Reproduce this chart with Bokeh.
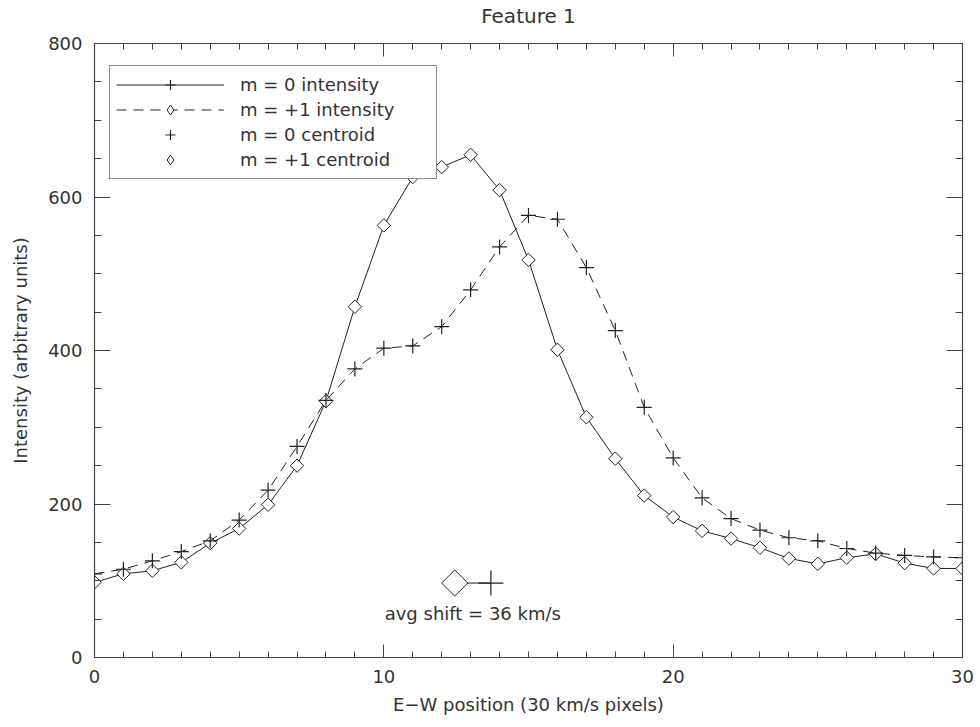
import numpy as np
from bokeh.plotting import figure
from bokeh.models import (LinearAxis, SingleIntervalTicker, Range1d, Legend,
                          LegendItem, Label)
from bokeh.embed import file_html
from bokeh.resources import INLINE

# E-W pixel positions along the slit
position = list(range(31))

# Intensity profiles (arbitrary units)
m0_intensity = [98, 109, 113, 124, 149, 168, 199, 250, 334, 457, 563, 626, 639,
                655, 609, 518, 401, 313, 259, 211, 183, 165, 155, 143, 129, 122,
                130, 135, 123, 116, 116]
m1_intensity = [109, 115, 126, 138, 152, 179, 218, 275, 335, 376, 403, 406, 431,
                479, 535, 576, 571, 508, 426, 326, 260, 208, 181, 166, 156, 152,
                142, 136, 133, 131, 130]

# Centroids (pixels) and the level they are marked at
centroid_m0 = 13.7
centroid_m1 = 12.45
centroid_level = 97
avg_shift_kms = 36

FONT = "DejaVu Sans"
INK = "#222222"
AXIS = "#444444"
TEXT = "#333333"

p = figure(width=980, height=727, output_backend="svg", toolbar_location=None,
           x_range=Range1d(0, 30), y_range=Range1d(0, 800),
           min_border_left=94, min_border_right=18, min_border_top=43,
           min_border_bottom=70,
           x_axis_label="E\u2212W position (30 km/s pixels)",
           y_axis_label="Intensity (arbitrary units)")
p.grid.visible = False
p.outline_line_color = None
p.background_fill_color = "white"
p.border_fill_color = "white"

xt = SingleIntervalTicker(interval=10, num_minor_ticks=10)
yt = SingleIntervalTicker(interval=200, num_minor_ticks=4)


def style_axis(ax, major, minor, show_labels=True):
    ax.axis_line_color = AXIS
    ax.axis_line_width = 1.2
    ax.major_tick_line_color = AXIS
    ax.minor_tick_line_color = AXIS
    ax.major_tick_in = major
    ax.major_tick_out = 0
    ax.minor_tick_in = minor
    ax.minor_tick_out = 0
    ax.major_label_text_font = FONT
    ax.major_label_text_font_size = "18px" if show_labels else "0px"
    ax.major_label_text_color = TEXT if show_labels else None
    ax.axis_label_text_font = FONT
    ax.axis_label_text_font_size = "18px"
    ax.axis_label_text_font_style = "normal"
    ax.axis_label_text_color = TEXT
    if not show_labels:
        ax.major_label_standoff = 0


xa = p.xaxis[0]
ya = p.yaxis[0]
xa.ticker = xt
ya.ticker = yt
style_axis(xa, 13, 6)
style_axis(ya, 16, 7)
xa.major_label_standoff = 12
xa.axis_label_standoff = 8
ya.major_label_standoff = 12
ya.axis_label_standoff = 14

# Mirrored axes on the top and right edges, ticks only; the top one carries
# the plot title as its axis label
top = LinearAxis(ticker=xt)
right = LinearAxis(ticker=yt)
style_axis(top, 13, 6, show_labels=False)
style_axis(right, 16, 7, show_labels=False)
top.axis_label = "Feature 1"
top.axis_label_text_font_size = "20px"
top.axis_label_standoff = 16
p.add_layout(top, "above")
p.add_layout(right, "right")

# Solid profile with diamond symbols
solid = p.line(position, m0_intensity, line_color=INK, line_width=1)
p.scatter(position, m0_intensity, marker="square", angle=np.pi / 4,
          size=9.5, fill_color="white", line_color=INK, line_width=1)

# Dashed profile with plus symbols
dashed = p.line(position, m1_intensity, line_color=INK, line_width=1,
                line_dash="10 7")
p.scatter(position, m1_intensity, marker="cross", size=15,
          line_color=INK, line_width=1.2)

# Centroid markers joined by a short line
p.line([centroid_m1, centroid_m0], [centroid_level, centroid_level],
       line_color=INK, line_width=1)
p.scatter([centroid_m1], [centroid_level], marker="square", angle=np.pi / 4,
          size=18.5, fill_color="white", line_color=INK, line_width=1)
p.scatter([centroid_m0], [centroid_level], marker="cross", size=25,
          line_color=INK, line_width=1.2)

p.add_layout(Label(x=(centroid_m0 + centroid_m1) / 2, y=centroid_level - 40,
                   text=f"avg shift = {avg_shift_kms} km/s",
                   text_align="center", text_baseline="middle",
                   text_font=FONT, text_font_size="18px",
                   text_color=TEXT))

# Symbol-only renderers (undrawn NaN point) used for the legend swatches
key_plus = p.scatter(x=[np.nan], y=[np.nan], marker="cross",
                     line_color=INK, line_width=1.2)
key_diamond = p.scatter(x=[np.nan], y=[np.nan], marker="diamond",
                        fill_color="white", line_color=INK, line_width=1)

legend = Legend(items=[
    LegendItem(label="m = 0 intensity", renderers=[solid, key_plus]),
    LegendItem(label="m = +1 intensity", renderers=[dashed, key_diamond]),
    LegendItem(label="m = 0 centroid", renderers=[key_plus]),
    LegendItem(label="m = +1 centroid", renderers=[key_diamond]),
], location=(15, 478))
legend.glyph_width = 108
legend.glyph_height = 25
legend.label_height = 25
legend.spacing = 0
legend.padding = 6
legend.label_standoff = 16
legend.label_width = 190
legend.label_text_font = FONT
legend.label_text_font_size = "18px"
legend.label_text_color = TEXT
legend.border_line_color = INK
legend.border_line_width = 1
legend.background_fill_color = "white"
legend.background_fill_alpha = 1
p.add_layout(legend, "center")

open("out.html", "w").write(file_html(p, INLINE))
